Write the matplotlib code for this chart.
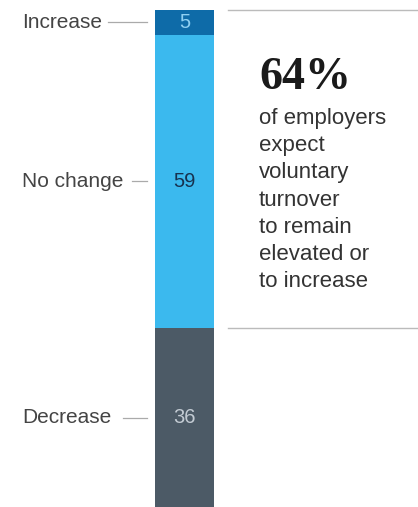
import matplotlib.pyplot as plt
from matplotlib.transforms import blended_transform_factory

# Expected change in voluntary turnover, % of employers
categories = ["Increase", "No change", "Decrease"]
values = [5, 59, 36]
bar_colors = ["#0e6ba8", "#3bb9ee", "#4c5a66"]
value_colors = ["#8fd0f2", "#17324f", "#c3cbd3"]

headline = "64%"
body = "of employers\nexpect\nvoluntary\nturnover\nto remain\nelevated or\nto increase"

W, H = 418, 507
fig = plt.figure(figsize=(W / 100, H / 100), dpi=100)

# bar axis: spans the bar column, y runs top-down in percent
ax = fig.add_axes([155 / W, 0, 59 / W, 497 / H])
ax.set_xlim(-0.5, 0.5)
ax.set_ylim(100, 0)
ax.axis("off")

sans = ["Liberation Sans", "DejaVu Sans"]
tr = blended_transform_factory(fig.transFigure, ax.transData)

bottom = 0
for cat, val, col, tcol in zip(categories, values, bar_colors, value_colors):
    ax.bar(0, val, bottom=bottom, width=1.0, color=col, edgecolor="none")
    mid = bottom + val / 2
    ax.text(0, mid, str(val), ha="center", va="center", color=tcol,
            fontsize=14.5, family=sans)
    # category label
    ax.text(22 / W, mid, cat, ha="left", va="center", color="#444444",
            fontsize=15, family=sans, transform=tr)
    bottom += val

# leader lines (end just before the bar)
leader_start = [108, 132, 123]
bottom = 0
for val, x0 in zip(values, leader_start):
    mid = bottom + val / 2
    ax.plot([x0 / W, 147 / W], [mid, mid], color="#aaaaaa", lw=0.9,
            transform=tr, clip_on=False)
    bottom += val

# callout box rules: top of bar and the Increase/No change boundary
elevated = values[0] + values[1]
for yv in [0, elevated]:
    ax.plot([228 / W, 1.0], [yv, yv], color="#bbbbbb", lw=1.0,
            transform=tr, clip_on=False)

fig.text(259 / W, 1 - 78 / H, headline, ha="left", va="center",
         fontsize=33, fontweight="bold", color="#1a1a1a",
         family=["Liberation Serif", "DejaVu Serif"])
fig.text(259 / W, 1 - 108 / H, body, ha="left", va="top",
         fontsize=16, color="#333333", family=sans, linespacing=1.39)

fig.savefig("out.png", dpi=100)
